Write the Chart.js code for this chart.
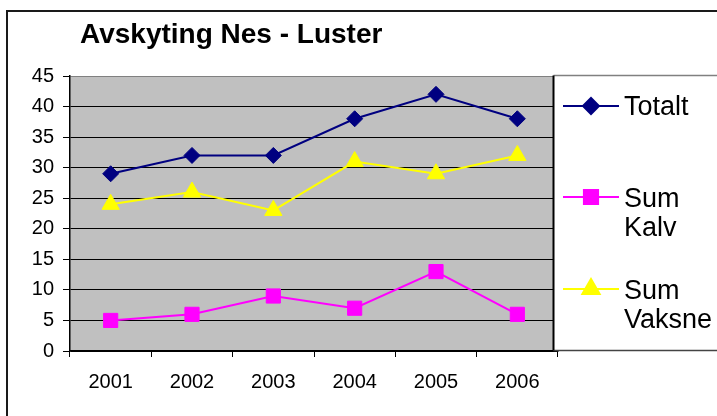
<!DOCTYPE html>
<html>
<head>
<meta charset="utf-8">
<script src="https://cdn.jsdelivr.net/npm/chart.js@4/dist/chart.umd.min.js"></script>
<style>
  html, body { margin: 0; padding: 0; background: #fff; }
  #wrap { width: 717px; height: 416px; }
</style>
</head>
<body>
<div id="wrap"><canvas id="avskytingChart" width="717" height="416"></canvas></div>
<script>
// data
const years = ['2001', '2002', '2003', '2004', '2005', '2006'];
const totalt = [29, 32, 32, 38, 42, 38];
const sumKalv = [5, 6, 9, 7, 13, 6];
const sumVaksne = [24, 26, 23, 31, 29, 32];
const seriesNames = ['Totalt', 'Sum Kalv', 'Sum Vaksne'];
const chartTitle = 'Avskyting Nes - Luster';

const FONT = '"Liberation Sans", Arial, sans-serif';

// grey plot background, outer frame, title
const frame = {
    id: 'frame',
    beforeDraw(chart) {
        const { ctx, chartArea: a } = chart;
        ctx.save();
        ctx.fillStyle = '#C0C0C0';
        ctx.fillRect(a.left, a.top, a.right - a.left, a.bottom - a.top);
        ctx.restore();
    },
    afterDraw(chart) {
        const ctx = chart.ctx;
        ctx.save();
        // outer border
        ctx.strokeStyle = '#1a1a1a';
        ctx.lineWidth = 2;
        ctx.beginPath();
        ctx.moveTo(7, 420);
        ctx.lineTo(7, 11);
        ctx.lineTo(720, 11);
        ctx.stroke();
        // title
        ctx.fillStyle = '#000';
        ctx.font = 'bold 28px ' + FONT;
        ctx.textBaseline = 'alphabetic';
        ctx.textAlign = 'left';
        ctx.fillText(chartTitle, 80, 43);
        ctx.restore();
    }
};

// legend box on the right, drawn over the plot like in Excel
const sideLegend = {
    id: 'sideLegend',
    afterDraw(chart) {
        const ctx = chart.ctx;
        const left = 553.5, top = 75.5, bottom = 350.5;
        ctx.save();
        ctx.fillStyle = '#fff';
        ctx.fillRect(left, top, 200, bottom - top);
        ctx.lineWidth = 1.5;
        ctx.strokeStyle = '#808080';
        ctx.beginPath();
        ctx.moveTo(left, top); ctx.lineTo(720, top);
        ctx.stroke();
        ctx.strokeStyle = '#444';
        ctx.beginPath();
        ctx.moveTo(left, bottom); ctx.lineTo(720, bottom);
        ctx.stroke();
        ctx.strokeStyle = '#000';
        ctx.lineWidth = 2;
        ctx.beginPath();
        ctx.moveTo(left, top); ctx.lineTo(left, bottom);
        ctx.stroke();

        const rows = [106, 197, 289];
        ctx.font = '27px ' + FONT;
        ctx.textAlign = 'left';
        ctx.textBaseline = 'alphabetic';
        chart.data.datasets.forEach((ds, i) => {
            const y = rows[i];
            ctx.strokeStyle = ds.borderColor;
            ctx.lineWidth = 2;
            ctx.beginPath();
            ctx.moveTo(563, y); ctx.lineTo(619, y);
            ctx.stroke();
            ctx.fillStyle = ds.pointBackgroundColor;
            ctx.strokeStyle = ds.pointBorderColor;
            Chart.helpers.drawPoint(ctx, {
                pointStyle: ds.pointStyle, radius: ds.pointRadius,
                borderWidth: 1, rotation: 0
            }, 591, y);
            ctx.fillStyle = '#000';
            const words = ds.label.split(' ');
            if (words.length === 1) {
                ctx.fillText(words[0], 624, y + 9);
            } else {
                ctx.fillText(words[0], 624, y + 10);
                ctx.fillText(words.slice(1).join(' '), 624, y + 39);
            }
        });
        ctx.restore();
    }
};

function makeSeries(label, data, color, style, radius) {
    return {
        label: label,
        data: data,
        borderColor: color,
        backgroundColor: color,
        pointBackgroundColor: color,
        pointBorderColor: color,
        pointStyle: style,
        pointRadius: radius,
        pointBorderWidth: 1,
        borderWidth: 2,
        tension: 0
    };
}

new Chart(document.getElementById('avskytingChart').getContext('2d'), {
    type: 'line',
    data: {
        labels: years,
        datasets: [
            makeSeries(seriesNames[0], totalt, '#000080', 'rectRot', 8),
            makeSeries(seriesNames[1], sumKalv, '#FF00FF', 'rect', 10),
            makeSeries(seriesNames[2], sumVaksne, '#FFFF00', 'triangle', 10)
        ]
    },
    options: {
        responsive: false,
        animation: false,
        events: [],
        layout: { padding: { left: 0, top: 76, right: 159, bottom: 0 } },
        plugins: {
            legend: { display: false },
            title: { display: false },
            tooltip: { enabled: false }
        },
        scales: {
            x: {
                offset: true,
                grid: {
                    offset: true,
                    drawOnChartArea: false,
                    drawTicks: true,
                    tickLength: 6,
                    tickColor: '#000'
                },
                border: { color: '#000', width: 1.5 },
                ticks: {
                    color: '#000',
                    font: { family: FONT, size: 20 },
                    padding: 13,
                    maxRotation: 0
                },
                afterFit(scale) { scale.height = 65; }
            },
            y: {
                min: 0,
                max: 45,
                grid: {
                    color: ctx => ctx.tick && ctx.tick.value === 45 ? '#808080' : '#000',
                    tickColor: '#000',
                    tickLength: 7,
                    lineWidth: 1
                },
                border: { color: '#000', width: 1.5 },
                ticks: {
                    stepSize: 5,
                    color: '#000',
                    font: { family: FONT, size: 20 },
                    padding: 9
                },
                afterFit(scale) { scale.width = 70; }
            }
        }
    },
    plugins: [frame, sideLegend]
});
</script>
</body>
</html>
